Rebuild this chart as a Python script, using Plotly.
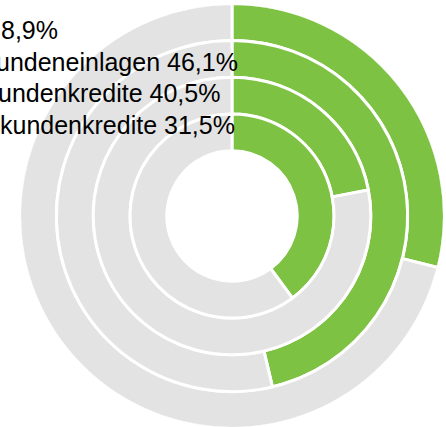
import plotly.graph_objects as go

# Data (outer ring first)
labels = ["8,9%", "undeneinlagen 46,1%", "undenkredite 40,5%", "kundenkredite 31,5%"]
values = [28.9, 46.3, 22.0, 39.9]   # share of full circle, in percent
total = 100.0

GREEN = "#7EC244"
GRAY = "#E3E3E3"

W, H = 446, 427
hole = 65.2
step = 36.8
n = len(values)
bases = [hole + (n - 1 - i) * step for i in range(n)]
thick = [step] * n

deg = 360.0 / total
green_theta = [v * deg / 2 for v in values]
green_width = [v * deg for v in values]
gray_theta = [(v + total) * deg / 2 for v in values]
gray_width = [(total - v) * deg for v in values]

fig = go.Figure()
fig.add_trace(go.Barpolar(r=thick, base=bases, theta=green_theta, width=green_width,
                          marker=dict(color=GREEN, line=dict(color="white", width=3)),
                          hoverinfo="skip", showlegend=False))
fig.add_trace(go.Barpolar(r=thick, base=bases, theta=gray_theta, width=gray_width,
                          marker=dict(color=GRAY, line=dict(color="white", width=3)),
                          hoverinfo="skip", showlegend=False))

cx, cy_top, R = 232, 216, 211
fig.update_layout(
    width=W, height=H,
    margin=dict(l=0, r=0, t=0, b=0),
    paper_bgcolor="white",
    plot_bgcolor="white",
    polar=dict(
        domain=dict(x=[(cx - R) / W, (cx + R) / W], y=[(H - cy_top - R) / H, (H - cy_top + R) / H]),
        bgcolor="white",
        barmode="overlay",
        hole=0,
        radialaxis=dict(range=[0, R], visible=False, showgrid=False),
        angularaxis=dict(visible=False, rotation=90, direction="clockwise", showgrid=False),
    ),
)

right_ends = [60, 240, 222, 237]
baselines = [39, 71, 102, 134]
fs = 25
for txt, xr, yb in zip(labels, right_ends, baselines):
    fig.add_annotation(
        x=xr / W, y=1 - (yb - fs * 0.36) / H, xref="paper", yref="paper",
        text=txt, showarrow=False, xanchor="right", yanchor="middle",
        font=dict(family="Liberation Sans, Arial, sans-serif", size=fs, color="#000000"),
    )

fig.write_html("out.html", config={"displayModeBar": False},
               post_script="document.body.style.margin='0';document.body.style.overflow='hidden';")
